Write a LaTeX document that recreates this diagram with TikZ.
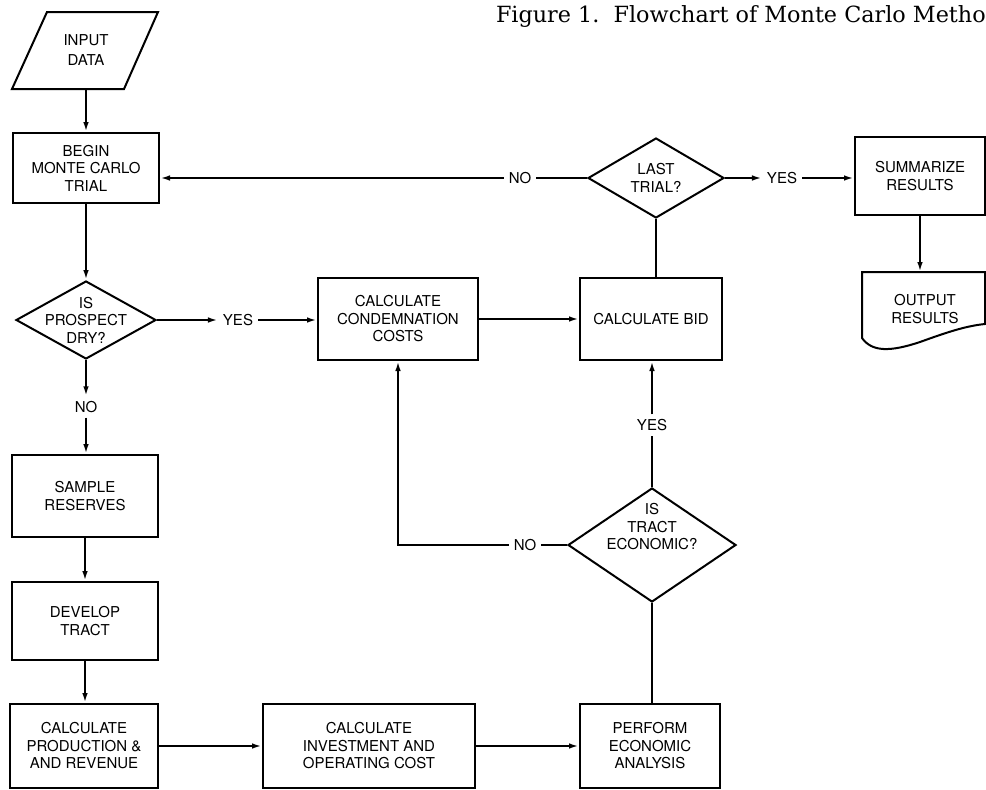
\documentclass[tikz,border=0pt]{standalone}
\usepackage{fontspec}
\setmainfont{TeX Gyre Heros}
\newfontfamily\titlefont{DejaVu Serif}
\usetikzlibrary{arrows.meta,shapes.geometric}
\newcommand{\labfont}{\fontsize{15}{17.5}\selectfont}
\begin{document}
\begin{tikzpicture}[x=1pt,y=-1pt,line width=2pt,
  >={Latex[length=10pt,width=5.5pt]},
  box/.style={draw,rectangle,align=center,font=\labfont,inner sep=0pt},
  dia/.style={draw,diamond,inner sep=0pt},
  lab/.style={font=\labfont,inner sep=4pt,align=center},
  txt/.style={font=\labfont,inner sep=0pt,align=center}]
\useasboundingbox (0,0) rectangle (986,790);
\clip (0,0) rectangle (986,790);

% title
\node[anchor=base west,inner sep=0pt,font=\titlefont\fontsize{22.3}{24}\selectfont] (title) at (495,22) {Figure 1.\ \ Flowchart of Monte Carlo Metho};

% input parallelogram
\draw (12,89) -- (47,12) -- (158,12) -- (124,89) -- cycle;
\node[txt] (input) at (86,50) {INPUT\\[2pt]DATA};
\coordinate (inbot) at (86,89);

% left column
\node[box,minimum width=146pt,minimum height=70pt] (begin) at (86,168) {BEGIN\\MONTE CARLO\\TRIAL};
\node[dia,minimum width=140pt,minimum height=78pt] (d1) at (86,320) {};
\node[txt] at (86,320) {IS\\PROSPECT\\DRY?};
\node[lab] (no1) at (86,407) {NO};
\node[box,minimum width=146pt,minimum height=82pt] (sample) at (85,496) {SAMPLE\\RESERVES};
\node[box,minimum width=146pt,minimum height=78pt] (develop) at (85,621) {DEVELOP\\TRACT};
\node[box,minimum width=148pt,minimum height=84pt] (prod) at (84,746) {CALCULATE\\PRODUCTION \&\\AND REVENUE};
\node[box,minimum width=212pt,minimum height=84pt] (invest) at (369,746) {CALCULATE\\INVESTMENT AND\\OPERATING COST};
\node[box,minimum width=140pt,minimum height=84pt] (perform) at (650,746) {PERFORM\\ECONOMIC\\ANALYSIS};

% middle
\node[lab] (yes1) at (238,320) {YES};
\node[box,minimum width=160pt,minimum height=82pt] (cond) at (398,319) {CALCULATE\\CONDEMNATION\\COSTS};
\node[box,minimum width=142pt,minimum height=82pt] (bid) at (651,319) {CALCULATE BID};
\node[dia,minimum width=136pt,minimum height=80pt] (d2) at (656,178) {};
\node[txt] at (656,178) {LAST\\TRIAL?};
\node[lab] (no2) at (520,178) {NO};
\node[lab] (yes2) at (782,178) {YES};
\node[box,minimum width=130pt,minimum height=78pt] (summ) at (920,176) {SUMMARIZE\\RESULTS};

% output document
\draw (862,338) -- (862,272) -- (985,272) -- (985,324)
  .. controls (965,326) and (945,333) .. (920,342)
  .. controls (890,352) and (872,352) .. (862,338) -- cycle;
\node[txt] (output) at (925,309) {OUTPUT\\RESULTS};
\coordinate (outtop) at (920,272);

% tract economic
\node[dia,minimum width=168pt,minimum height=114pt] (d3) at (652,545) {};
\node[txt] at (652,527) {IS\\TRACT\\ECONOMIC?};
\node[lab] (yes3) at (652,425) {YES};
\node[lab] (no3) at (525,545) {NO};

% connectors
\draw[->] (inbot) -- (inbot |- begin.north);
\draw[->] (begin.south -| d1.north) -- (d1.north);
\draw[->] (d1.south) -- (no1.north);
\draw[->] (no1.south) -- (no1.south |- sample.north);
\draw[->] (sample) -- (develop);
\draw[->] (develop) -- (prod.north -| develop.south);
\draw[->] (prod.east |- invest.west) -- (invest.west);
\draw[->] (invest.east) -- (invest.east -| perform.west);
\draw (perform.north -| d3.south) -- (d3.south);
\draw (d3.north) -- (yes3.south);
\draw[->] (yes3.north) -- (yes3.north |- bid.south);
\draw (d3.west) -- (no3.east);
\draw[->] (no3.west) -- (no3.west -| cond.south) -- (cond.south);
\draw[->] (d1.east) -- (yes1.west);
\draw[->] (yes1.east) -- (yes1.east -| cond.west);
\draw[->] (cond.east) -- (cond.east -| bid.west);
\draw (bid.north -| d2.south) -- (d2.south);
\draw (d2.west) -- (no2.east);
\draw[->] (no2.west) -- (no2.west -| begin.east);
\draw[->] (d2.east) -- (yes2.west);
\draw[->] (yes2.east) -- (yes2.east -| summ.west);
\draw[->] (summ.south -| outtop) -- (outtop);
\end{tikzpicture}
\end{document}
